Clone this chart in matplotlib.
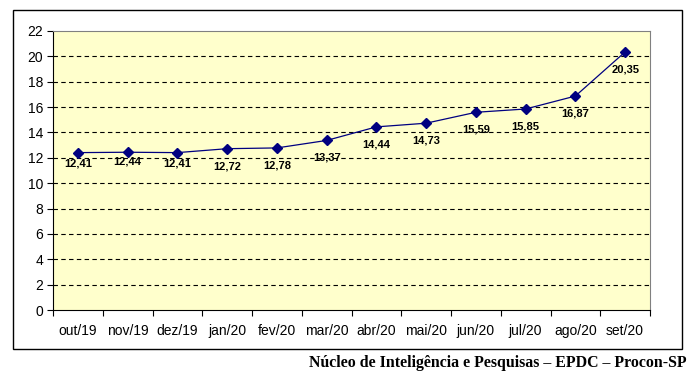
import matplotlib.pyplot as plt
from matplotlib.patches import Rectangle

# dados
meses = ['out/19', 'nov/19', 'dez/19', 'jan/20', 'fev/20', 'mar/20',
         'abr/20', 'mai/20', 'jun/20', 'jul/20', 'ago/20', 'set/20']
valores = [12.41, 12.44, 12.41, 12.72, 12.78, 13.37,
           14.44, 14.73, 15.59, 15.85, 16.87, 20.35]
rotulos = ['12,41', '12,44', '12,41', '12,72', '12,78', '13,37',
           '14,44', '14,73', '15,59', '15,85', '16,87', '20,35']
fonte = 'Núcleo de Inteligência e Pesquisas – EPDC – Procon-SP'

W, H = 697, 385
fig = plt.figure(figsize=(W / 100, H / 100), dpi=100)

# moldura externa
fig.patches.append(Rectangle((13 / W, 1 - 349 / H), (682 - 13) / W, (349 - 10) / H,
                             transform=fig.transFigure, fill=False,
                             edgecolor='black', linewidth=1.0))

ax = fig.add_axes([53 / W, 1 - 310 / H, (650 - 53) / W, (310 - 31) / H])
ax.set_facecolor('#ffffcc')

x = list(range(len(meses)))
ax.plot(x, valores, color='#000080', linewidth=0.9, marker='D',
        markersize=5.5, markerfacecolor='#000080', markeredgecolor='#000080',
        zorder=3)

# deslocamento vertical dos rotulos (pt)
desloc = [-7.5, -7, -7.5] + [-12.5] * 9
for xi, v, r, d in zip(x, valores, rotulos, desloc):
    ax.annotate(r, (xi, v), xytext=(0, d), textcoords='offset points',
                ha='center', va='center', fontsize=8, fontweight='bold',
                family='Liberation Sans', zorder=4)

ax.set_xlim(-0.5, 11.5)
ax.set_ylim(0, 22)
ax.set_yticks(range(0, 23, 2))
ax.set_xticks([i + 0.5 for i in range(-1, 12)], minor=False)
ax.set_xticklabels([])
ax.set_xticks(x, minor=True)
ax.set_xticklabels(meses, minor=True)
ax.tick_params(axis='x', which='minor', length=0, pad=10, labelsize=10)
ax.tick_params(axis='x', which='major', length=4, direction='out')
ax.tick_params(axis='y', length=4, direction='out', labelsize=10, pad=3)
for lab in ax.get_xticklabels(minor=True) + ax.get_yticklabels():
    lab.set_family('Liberation Sans')

for yv in range(2, 22, 2):
    ax.axhline(yv, color='black', linestyle=(0, (4, 3)), linewidth=0.8, zorder=1)

ax.spines['top'].set_color('#808080')
ax.spines['right'].set_color('#808080')
ax.spines['left'].set_color('black')
ax.spines['bottom'].set_color('black')

fig.text(687 / W, 1 - 363 / H, fonte, ha='right', va='center',
         fontsize=11.4, fontweight='bold', family='Liberation Serif')

fig.savefig('out.png', dpi=100)
